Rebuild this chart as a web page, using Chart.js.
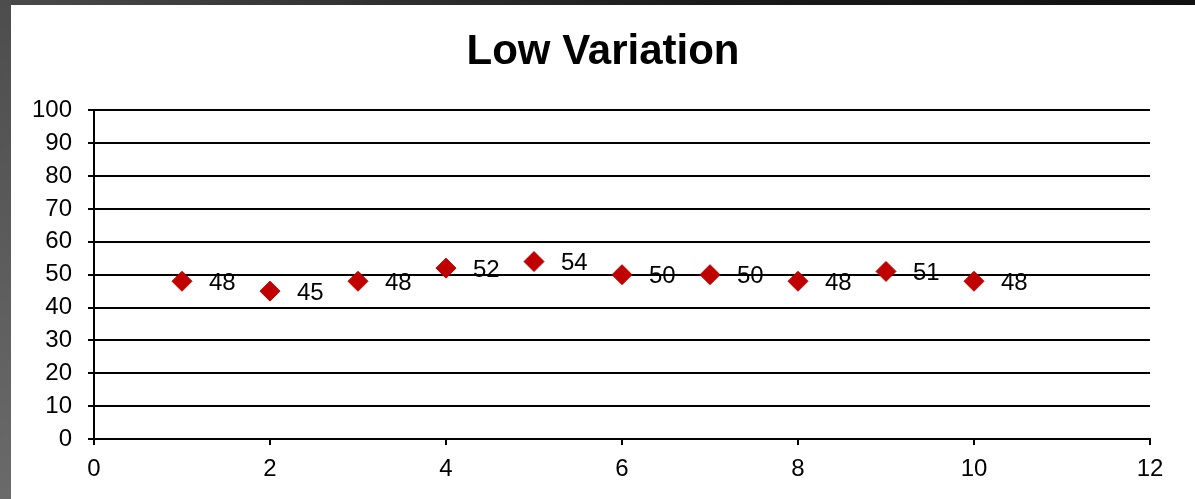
<!DOCTYPE html>
<html>
<head>
<meta charset="utf-8">
<title>Low Variation</title>
<script src="https://cdn.jsdelivr.net/npm/chart.js@4"></script>
<style>
    html, body { margin: 0; padding: 0; }
    body {
        width: 1195px;
        height: 499px;
        overflow: hidden;
        background: #ffffff;
        position: relative;
    }
    /* marco oscuro arriba y a la izquierda, como en la captura */
    .top-band {
        position: absolute; left: 0; top: 0; width: 1195px; height: 5px;
        background: linear-gradient(to right, #4a4a4a, #1a1a1a 60%, #111111);
    }
    .left-band {
        position: absolute; left: 0; top: 0; width: 11px; height: 499px;
        background: linear-gradient(to bottom, #4d4d4d, #6a6a6a);
    }
    .chart-box {
        position: absolute; left: 11px; top: 5px; width: 1184px; height: 494px;
    }
</style>
</head>
<body>
<div class="top-band"></div>
<div class="left-band"></div>
<div class="chart-box"><canvas id="myChart"></canvas></div>

<script>
// Datos del gráfico
const xValues = [1, 2, 3, 4, 5, 6, 7, 8, 9, 10];
const yValues = [48, 45, 48, 52, 54, 50, 50, 48, 51, 48];
const xTickValues = [0, 2, 4, 6, 8, 10, 12];
const yTickValues = [0, 10, 20, 30, 40, 50, 60, 70, 80, 90, 100];
const chartTitle = 'Low Variation';

const FONT = '"Liberation Sans", Arial, sans-serif';

// Etiquetas de valor a la derecha de cada punto
const valueLabels = {
    id: 'valueLabels',
    afterDatasetsDraw(chart) {
        const ctx = chart.ctx;
        const meta = chart.getDatasetMeta(0);
        ctx.save();
        ctx.font = '24px ' + FONT;
        ctx.fillStyle = '#000000';
        ctx.textAlign = 'left';
        ctx.textBaseline = 'middle';
        meta.data.forEach((pt, i) => {
            ctx.fillText(String(yValues[i]), pt.x + 27, pt.y + 2);
        });
        ctx.restore();
    }
};

const ctx = document.getElementById('myChart');

new Chart(ctx, {
    type: 'scatter',
    data: {
        datasets: [{
            label: chartTitle,
            data: xValues.map((x, i) => ({ x: x, y: yValues[i] })),
            pointStyle: 'rectRot',
            pointRadius: 10,
            pointHoverRadius: 10,
            backgroundColor: '#c00000',
            borderColor: '#c00000',
            borderWidth: 1
        }]
    },
    options: {
        responsive: true,
        maintainAspectRatio: false,
        animation: false,
        events: [],
        layout: { padding: 0 },
        plugins: {
            legend: { display: false },
            tooltip: { enabled: false },
            title: {
                display: true,
                text: chartTitle,
                color: '#000000',
                font: { family: FONT, size: 42, weight: 'bold' },
                padding: { top: 22, bottom: 33 }
            }
        },
        scales: {
            x: {
                type: 'linear',
                min: 0,
                max: 12,
                afterBuildTicks: (scale) => {
                    scale.ticks = xTickValues.map(v => ({ value: v }));
                },
                afterFit: (scale) => { scale.height = 60; },
                grid: {
                    drawOnChartArea: false,
                    drawTicks: true,
                    tickLength: 6,
                    color: '#000000',
                    lineWidth: 2
                },
                border: { display: true, color: '#000000', width: 2 },
                ticks: {
                    color: '#000000',
                    padding: 10,
                    maxRotation: 0,
                    font: { family: FONT, size: 24 }
                }
            },
            y: {
                type: 'linear',
                min: 0,
                max: 100,
                afterBuildTicks: (scale) => {
                    scale.ticks = yTickValues.map(v => ({ value: v }));
                },
                afterFit: (scale) => { scale.width = 83; },
                grid: {
                    drawOnChartArea: true,
                    drawTicks: true,
                    tickLength: 6,
                    color: '#000000',
                    lineWidth: 2
                },
                border: { display: true, color: '#000000', width: 2 },
                ticks: {
                    color: '#000000',
                    padding: 16,
                    font: { family: FONT, size: 24 }
                }
            },
            // eje invisible a la derecha, solo para reservar el margen
            yRight: {
                type: 'linear',
                position: 'right',
                min: 0,
                max: 100,
                afterFit: (scale) => { scale.width = 45; },
                grid: { display: false, drawOnChartArea: false },
                border: { display: false },
                ticks: { display: false }
            }
        }
    },
    plugins: [valueLabels]
});
</script>
</body>
</html>
